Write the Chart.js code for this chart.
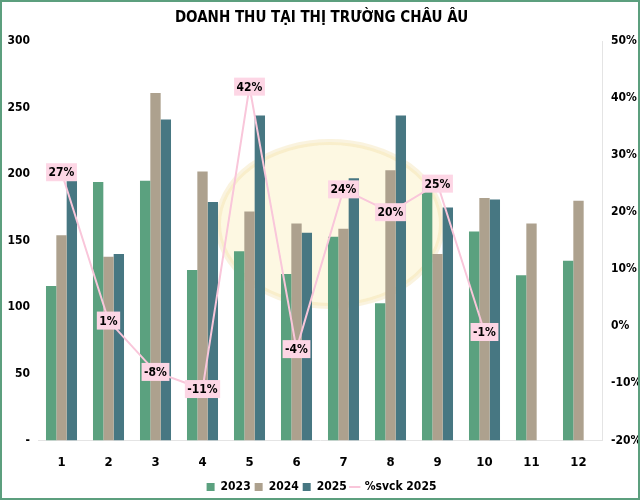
<!DOCTYPE html>
<html>
<head>
<meta charset="utf-8">
<script src="https://cdn.jsdelivr.net/npm/chart.js@4.4.0/dist/chart.umd.min.js"></script>
<style>
  html, body { margin: 0; padding: 0; background: #fff; }
  #wrap { width: 636px; height: 496px; border: 2px solid #5c9f7e; position: relative; }
</style>
</head>
<body>
<div id="wrap"><canvas id="chart" width="636" height="496"></canvas></div>
<script>
// Chart data
const months = ['1', '2', '3', '4', '5', '6', '7', '8', '9', '10', '11', '12'];
const rev2023 = [116, 194, 195, 128, 142, 125, 153, 103, 190, 157, 124, 135];
const rev2024 = [154, 138, 261, 202, 172, 163, 159, 203, 140, 182, 163, 180];
const rev2025 = [195, 140, 241, 179, 244, 156, 197, 244, 175, 181, null, null];
const yoy2025 = [27, 1, -8, -11, 42, -4, 24, 20, 25, -1, null, null];

const FONT = '"Liberation Sans Narrow", "DejaVu Sans Condensed", "Liberation Sans", sans-serif';

// Faint watermark disc behind the bars
const watermark = {
    id: 'watermark',
    beforeDatasetsDraw(chart) {
        const ctx = chart.ctx;
        ctx.save();
        ctx.beginPath();
        ctx.ellipse(328, 222, 112, 82, 0, 0, Math.PI * 2);
        ctx.fillStyle = 'rgba(250, 232, 160, 0.3)';
        ctx.fill();
        ctx.lineWidth = 6;
        ctx.strokeStyle = 'rgba(240, 215, 150, 0.3)';
        ctx.stroke();
        ctx.restore();
    }
};

// Draw the pink percent labels on the line
const lineLabels = {
    id: 'lineLabels',
    afterDatasetsDraw(chart) {
        const ctx = chart.ctx;
        const meta = chart.getDatasetMeta(3);
        ctx.save();
        ctx.font = 'bold 12px ' + FONT;
        ctx.textAlign = 'center';
        ctx.textBaseline = 'middle';
        meta.data.forEach((pt, i) => {
            const v = yoy2025[i];
            if (v === null) return;
            const text = v + '%';
            const w = ctx.measureText(text).width + 5;
            const h = 18;
            ctx.fillStyle = '#fdd6e5';
            ctx.fillRect(pt.x - w / 2, pt.y - h / 2, w, h);
            ctx.fillStyle = '#000';
            ctx.fillText(text, pt.x, pt.y + 1);
        });
        ctx.restore();
    }
};

new Chart(document.getElementById('chart'), {
    type: 'bar',
    data: {
        labels: months,
        datasets: [
            { label: '2023', data: rev2023, backgroundColor: '#5ba17f', yAxisID: 'y', order: 2 },
            { label: '2024', data: rev2024, backgroundColor: '#ada18e', yAxisID: 'y', order: 2 },
            { label: '2025', data: rev2025, backgroundColor: '#477782', yAxisID: 'y', order: 2 },
            {
                type: 'line', label: '%svck 2025', data: yoy2025, yAxisID: 'y1', order: 0,
                borderColor: '#f9c6da', backgroundColor: '#f9c6da', borderWidth: 2,
                pointRadius: 0, tension: 0, spanGaps: false
            }
        ]
    },
    options: {
        responsive: false,
        animation: false,
        layout: { padding: { left: 3, right: 0, top: 0, bottom: -5 } },
        datasets: { bar: { barPercentage: 1.0, categoryPercentage: 0.66 } },
        scales: {
            x: {
                grid: { display: false, drawTicks: false },
                border: { color: '#e4e4e4' },
                afterFit(scale) { scale.height -= 7; },
                ticks: { color: '#000', font: { family: FONT, size: 13, weight: 'bold' }, padding: 14 }
            },
            y: {
                position: 'left', min: 0, max: 300,
                grid: { display: false },
                border: { display: false },
                afterFit(scale) { scale.width = 33; },
                ticks: {
                    stepSize: 50, color: '#000', padding: 0,
                    font: { family: FONT, size: 12, weight: 'bold' },
                    callback: v => v === 0 ? '-' : v
                }
            },
            y1: {
                position: 'right', min: -20, max: 50,
                grid: { display: false, drawTicks: true, tickLength: 4 },
                border: { color: '#e4e4e4' },
                afterFit(scale) { scale.width = 36; },
                ticks: {
                    stepSize: 10, color: '#000', padding: 5,
                    font: { family: FONT, size: 12, weight: 'bold' },
                    callback: v => v + '%'
                }
            }
        },
        plugins: {
            title: {
                display: true,
                text: 'DOANH THU TẠI THỊ TRƯỜNG CHÂU ÂU',
                color: '#000',
                font: { family: FONT, size: 15, weight: 'bold' },
                padding: { top: 7, bottom: 14 }
            },
            legend: {
                position: 'bottom',
                labels: {
                    color: '#000',
                    font: { family: FONT, size: 12, weight: 'bold' },
                    usePointStyle: true,
                    boxWidth: 8, boxHeight: 8, padding: 4,
                    generateLabels(chart) {
                        return chart.data.datasets.map((ds, i) => ({
                            text: ds.label,
                            fillStyle: ds.backgroundColor,
                            strokeStyle: ds.type === 'line' ? ds.borderColor : ds.backgroundColor,
                            lineWidth: ds.type === 'line' ? 2 : 0,
                            pointStyle: ds.type === 'line' ? 'line' : 'rect',
                            fontColor: '#000',
                            datasetIndex: i
                        }));
                    }
                }
            },
            tooltip: { enabled: false }
        }
    },
    plugins: [watermark, lineLabels]
});
</script>
</body>
</html>
